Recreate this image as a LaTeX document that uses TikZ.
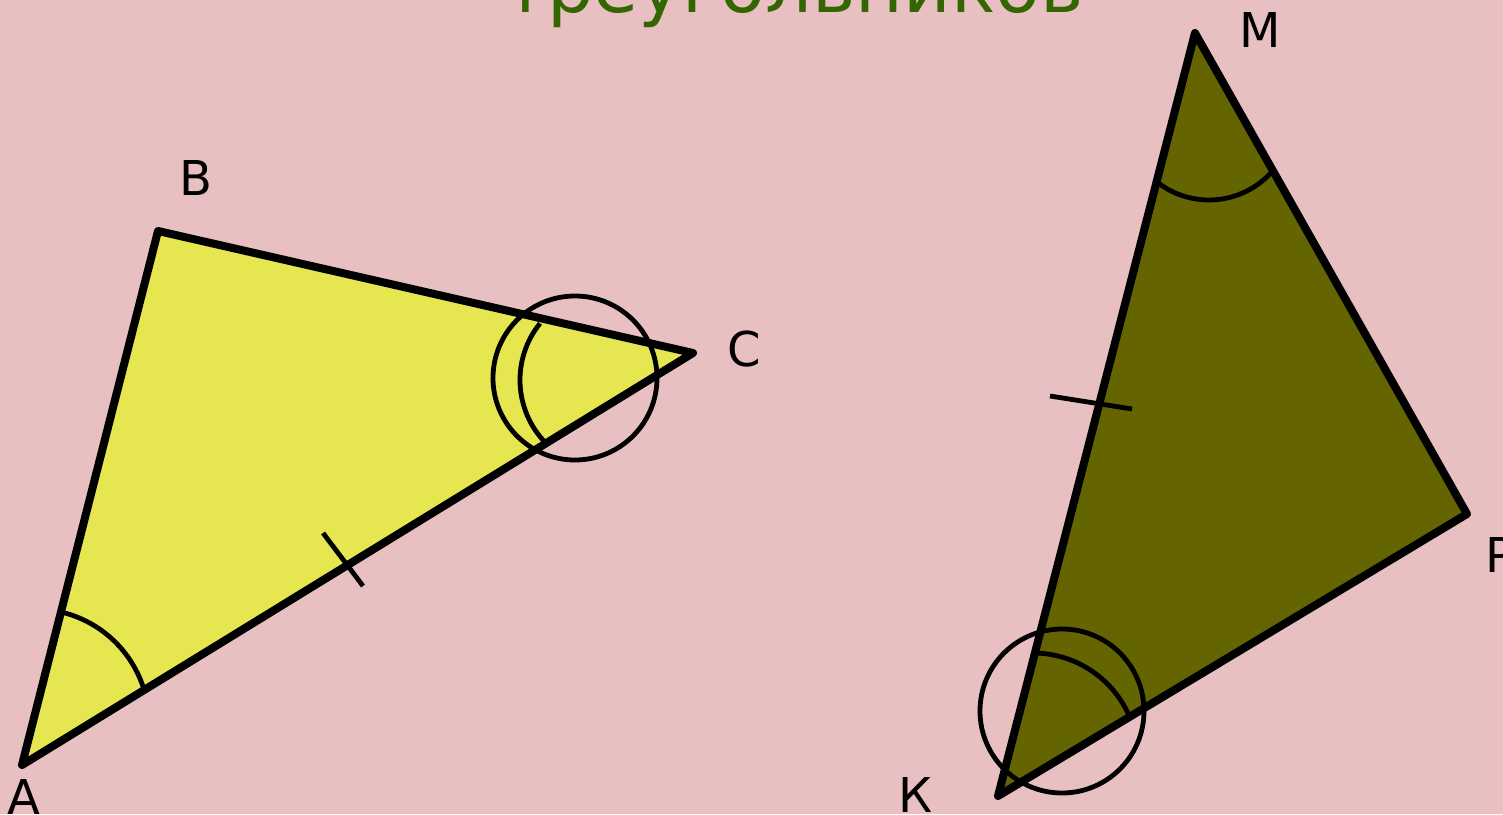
\documentclass[tikz,border=0pt]{standalone}
\usepackage{fontspec}
\setmainfont{DejaVu Sans}
\begin{document}
\begin{tikzpicture}[x=0.75pt,y=0.75pt,yscale=-1,xscale=1,
    side/.style={line width=6pt, line join=round},
    marker/.style={line width=3.6pt},
    vlabel/.style={inner sep=0.75pt, font=\fontsize{36}{43}\selectfont}]
%Background
\useasboundingbox (0,0) rectangle (1503,814);
\clip (0,0) rectangle (1503,814);
\fill [color={rgb, 255:red, 232; green, 192; blue, 194 }] (0,0) rectangle (1503,814);

% Title Node
\draw (794,12) node [anchor=base][inner sep=0pt] (title) {\fontsize{55}{60}\selectfont\textcolor[RGB]{51,102,0}{треугольников}};

% Vertices
\coordinate (A) at (22,765);
\coordinate (B) at (158,231);
\coordinate (C) at (693,353);
\coordinate (K) at (998,796);
\coordinate (M) at (1195,33);
\coordinate (P) at (1467,514);

%Shape: Triangle ABC
\fill [color={rgb, 255:red, 230; green, 230; blue, 80 }] (A) -- (B) -- (C) -- cycle;
%Shape: Triangle KMP
\fill [color={rgb, 255:red, 100; green, 100; blue, 0 }] (K) -- (M) -- (P) -- cycle;

%Angle Arcs
\draw [marker] (35,723) ++(-76:114) arc [start angle=-76, end angle=-17, radius=114];
\draw [marker] (610,380) ++(136:90) arc [start angle=136, end angle=219, radius=90];
\draw [marker] (575,378) circle [radius=82];
\draw [marker] (1209,116) ++(40:84) arc [start angle=40, end angle=127, radius=84];
\draw [marker] (1033,758) ++(-89:105) arc [start angle=-89, end angle=-25, radius=105];
\draw [marker] (1062,711) circle [radius=82];

%Ticks
\draw [marker] (323,533) -- (363,586);
\draw [marker] (1050,396) -- (1132,409);

%Sides
\draw [side] (A) -- (B) -- (C) -- cycle;
\draw [side] (K) -- (M) -- (P) -- cycle;

% Text Node
\draw (24,797) node [vlabel] (lblA) {А};
% Text Node
\draw (196,178) node [vlabel] (lblB) {В};
% Text Node
\draw (744,349) node [vlabel] (lblC) {С};
% Text Node
\draw (916,795) node [vlabel] (lblK) {К};
% Text Node
\draw (1260,30) node [vlabel] (lblM) {М};
% Text Node
\draw (1500,555) node [vlabel] (lblP) {Р};
\end{tikzpicture}
\end{document}
